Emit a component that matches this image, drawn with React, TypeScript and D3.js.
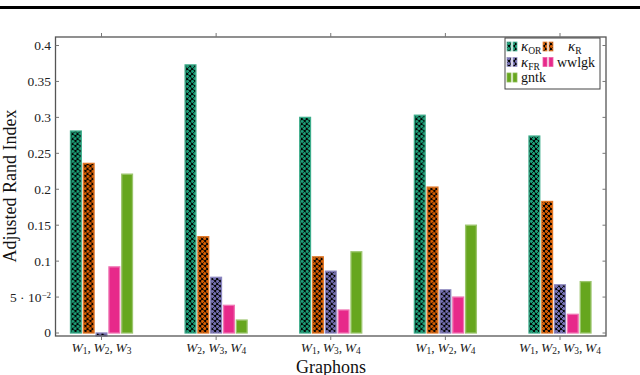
import React from 'react';
import * as d3 from 'd3';

const groups = ['W1,W2,W3', 'W2,W3,W4', 'W1,W3,W4', 'W1,W2,W4', 'W1,W2,W3,W4'];
const groupIdx = [[1, 2, 3], [2, 3, 4], [1, 3, 4], [1, 2, 4], [1, 2, 3, 4]];
const series = ['kOR', 'kR', 'kFR', 'wwlgk', 'gntk'];
const colors = ['#1b9e77', '#d95f02', '#7570b3', '#e7298a', '#66a61e'];
const patterned = [true, true, true, false, false];

const kOR = [0.281, 0.373, 0.300, 0.303, 0.274];
const kR = [0.236, 0.134, 0.106, 0.203, 0.183];
const kFR = [-0.004, 0.0775, 0.086, 0.060, 0.067];
const wwlgk = [0.092, 0.0385, 0.032, 0.050, 0.026];
const gntk = [0.221, 0.018, 0.113, 0.150, 0.0715];
const values = [kOR, kR, kFR, wwlgk, gntk];

const yTicks = [0, 0.05, 0.1, 0.15, 0.2, 0.25, 0.3, 0.35, 0.4];

const W = 640;
const H = 375;
const frame = { left: 55.5, right: 606, top: 37, bottom: 336 };
const font = "'Liberation Serif', 'Times New Roman', serif";

const lighten = (c: string, t: number) => d3.interpolateRgb(c, '#ffffff')(t);

// plus-shaped dot, used in the crosshatch-dots pattern
const Plus = ({ cx, cy, c }: { cx: number; cy: number; c: string }) => (
  <>
    <rect x={cx - 1.8} y={cy - 0.8} width={3.6} height={1.6} fill={c} />
    <rect x={cx - 0.8} y={cy - 1.8} width={1.6} height={3.6} fill={c} />
  </>
);

const SeriesName = ({ s }: { s: string }) => {
  if (s.startsWith('k')) {
    return (
      <>
        <tspan fontStyle="italic" fontSize={15}>κ</tspan>
        <tspan fontSize={9.5} baselineShift="-25%">{s.slice(1)}</tspan>
      </>
    );
  }
  return <tspan>{s}</tspan>;
};

export default function App() {
  const x = d3.scalePoint<string>().domain(groups).range([101.5, 560]);
  const inner = d3.scaleBand<string>().domain(series).range([-31, 31]).paddingInner(0.16);
  const y = d3.scaleLinear().domain([0, 0.4]).range([333, 45.5]);

  const fmt = (v: number) => {
    if (v === 0) return <tspan>0</tspan>;
    if (v === 0.05)
      return (
        <>
          <tspan>5 · 10</tspan>
          <tspan fontSize={9} baselineShift="45%">−2</tspan>
        </>
      );
    return <tspan>{d3.format('')(+v.toFixed(2))}</tspan>;
  };

  return (
    <svg width={W} height={H} style={{ position: 'absolute', left: 0, top: 0, background: '#fff', fontFamily: font }}>
      <defs>
        {colors.map((c, i) => (
          <pattern key={i} id={`dots${i}`} width={5} height={5} patternUnits="userSpaceOnUse">
            <rect width={5} height={5} fill="#000" />
            <Plus cx={1.25} cy={1.25} c={c} />
            <Plus cx={3.75} cy={3.75} c={c} />
          </pattern>
        ))}
      </defs>

      {/* page rule above the figure */}
      <rect x={0} y={6} width={W} height={3} fill="#000" />

      {/* bars */}
      {groups.map((g, gi) => (
        <g key={g} transform={`translate(${x(g)},0)`}>
          {series.map((s, si) => {
            const v = values[si][gi];
            const y0 = y(0);
            const y1 = y(v);
            return (
              <rect
                key={s}
                x={inner(s)!}
                y={Math.min(y0, y1)}
                width={inner.bandwidth()}
                height={Math.abs(y1 - y0)}
                fill={patterned[si] ? `url(#dots${si})` : colors[si]}
                stroke={lighten(colors[si], patterned[si] ? 0.15 : 0.35)}
                strokeWidth={1.3}
              />
            );
          })}
        </g>
      ))}

      {/* frame */}
      <rect
        x={frame.left}
        y={frame.top}
        width={frame.right - frame.left}
        height={frame.bottom - frame.top}
        fill="none"
        stroke="#555"
        strokeWidth={1.3}
      />

      {/* y ticks */}
      {yTicks.map(t => (
        <g key={t}>
          <line x1={frame.left} x2={frame.left + 3.5} y1={y(t)} y2={y(t)} stroke="#777" />
          <line x1={frame.right - 3.5} x2={frame.right} y1={y(t)} y2={y(t)} stroke="#777" />
          <text x={51} y={y(t)} dy="0.33em" textAnchor="end" fontSize={13.5} fill="#222" fontFamily={font}>
            {fmt(t)}
          </text>
        </g>
      ))}

      {/* x ticks */}
      {groups.map((g, gi) => (
        <g key={g}>
          <line x1={x(g)} x2={x(g)} y1={frame.bottom} y2={frame.bottom + 4} stroke="#777" />
          <line x1={x(g)} x2={x(g)} y1={frame.top - 4} y2={frame.top} stroke="#777" />
          <text x={x(g)} y={352} textAnchor="middle" fontSize={13.5} fill="#222" fontFamily={font}>
            {groupIdx[gi].map((n, k) => (
              <React.Fragment key={k}>
                <tspan fontStyle="italic">W</tspan>
                <tspan fontSize={9.5} baselineShift="-22%">{n}</tspan>
                {k < groupIdx[gi].length - 1 ? <tspan>,&#8201;</tspan> : null}
              </React.Fragment>
            ))}
          </text>
        </g>
      ))}

      {/* axis titles */}
      <text x={331} y={372.5} textAnchor="middle" fontSize={18} fill="#111" fontFamily={font}>Graphons</text>
      <text transform="translate(16,186) rotate(-90)" textAnchor="middle" fontSize={18} fill="#111" fontFamily={font}>
        Adjusted Rand Index
      </text>

      {/* legend */}
      <g>
        <rect x={505} y={38} width={95} height={51} fill="#fff" stroke="#444" strokeWidth={1} />
        {series.map((s, si) => {
          const col = si % 2;
          const row = Math.floor(si / 2);
          const sx = 507 + col * 36;
          const by = 51 + row * 15.5;
          const fill = patterned[si] ? `url(#dots${si})` : colors[si];
          const st = lighten(colors[si], 0.25);
          return (
            <g key={s}>
              <rect x={sx} y={by - 9} width={4} height={9} fill={fill} stroke={st} strokeWidth={0.8} />
              <rect x={sx + 6} y={by - 9} width={4} height={9} fill={fill} stroke={st} strokeWidth={0.8} />
              <text x={s === 'kR' ? 568 : sx + 14} y={by} fontSize={14} fill="#111" fontFamily={font}>
                <SeriesName s={s} />
              </text>
            </g>
          );
        })}
      </g>
    </svg>
  );
}
